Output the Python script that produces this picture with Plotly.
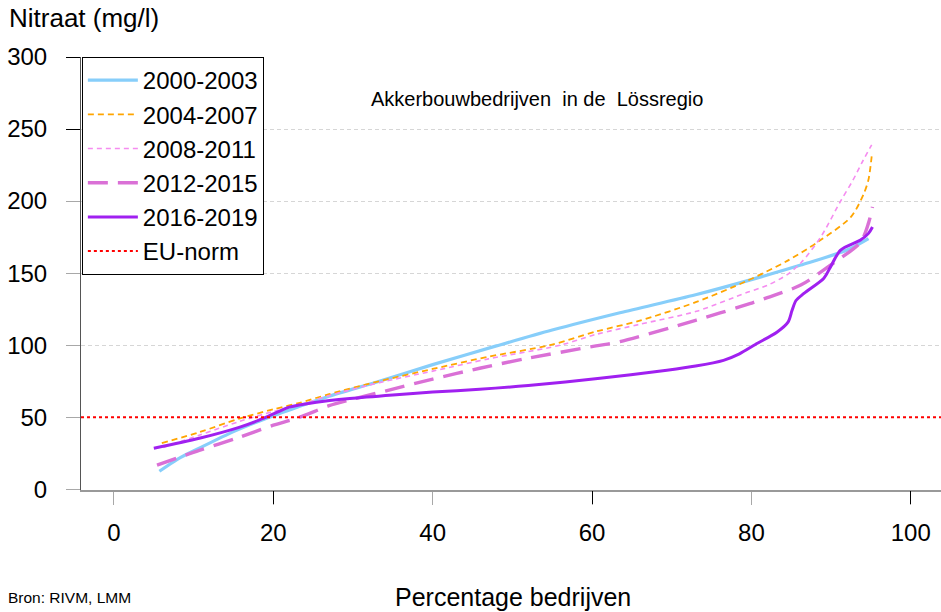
import plotly.graph_objects as go

# ---------------- data ----------------
x_2000 = [5.7, 8, 10.7, 15, 19, 23, 27, 33, 40, 48, 55, 63.5, 73, 80, 86.2, 92, 94.7]
y_2000 = [12.5, 21, 28.5, 40, 49, 57, 64.6, 74.5, 86.5, 99.5, 110.5, 122.5, 135, 145.5, 155.6, 166, 174]

x_2004 = [6, 10.7, 15.7, 20, 23.3, 27, 33.3, 40, 47, 54.7, 60.5, 66, 73.1, 79.4, 84.5, 88.3, 92.5, 94.1, 94.7, 95.1]
y_2004 = [32, 39.6, 49, 55.5, 60, 66, 75, 83.5, 92, 100, 109.5, 117, 130, 144.5, 158.5, 171.5, 189, 205, 215, 231]

x_2008 = [6.2, 10.7, 15.7, 20, 23.3, 27, 33.3, 40, 47, 56, 60.5, 66, 73.1, 79.4, 82, 84.5, 86.2, 88.7, 91.2, 92.7, 94, 95.1]
y_2008 = [29, 37.5, 47, 54, 58.5, 65, 74, 82, 90.5, 100, 107.5, 114.5, 123.5, 136.5, 141.5, 149, 157, 175, 200, 214, 228, 239]

x_2012 = [5.4, 10.7, 15.7, 20, 23.3, 27, 29.6, 35, 40, 45.9, 52, 60.5, 63.5, 73.1, 79.9, 82, 86.2, 90.3, 93.7, 94.7, 95.2]
y_2012 = [16.7, 27, 36, 44.5, 50, 58, 62, 69.5, 76.5, 84, 91, 99.5, 102.5, 117.4, 129, 133, 141.7, 157, 171.5, 184.7, 196]

x_2016 = [5, 10.7, 15.7, 18.2, 20.5, 22, 25.4, 29.6, 35, 40, 45.9, 52, 61, 69.4, 73, 76.5, 78.5, 80.5, 83.2, 84.6, 85.1, 85.6, 86.6, 89.1, 89.9, 91.2, 93.7, 94.7, 95.2]
y_2016 = [28.5, 35.4, 43, 48, 53.5, 57, 60.4, 63, 65.5, 67.5, 69.4, 72, 77, 82.6, 85.5, 89.5, 94, 100.5, 109, 116, 124, 131, 136, 146.5, 154, 166, 173, 177.6, 182]

EU_NORM = 50
series_names = ["2000-2003", "2004-2007", "2008-2011", "2012-2015", "2016-2019"]

x_ticks_all = [0, 20, 40, 60, 80, 100]
x_ticks_dark = [20, 60, 100]
y_ticks_all = [0, 50, 100, 150, 200, 250, 300]
y_ticks_dark = [250, 300]
y_grid = [100, 150, 200, 250]

X_RANGE = [-4.14, 103.8]
Y_RANGE = [-0.5, 300]

FONT = "Liberation Sans, Arial, sans-serif"

fig = go.Figure()

styles = [
    dict(color="#87CEFA", width=3.2, dash="solid"),
    dict(color="#FFA500", width=1.8, dash="6px,4px"),
    dict(color="#F58CF0", width=1.6, dash="5px,4px"),
    dict(color="#DA70D6", width=3.4, dash="20px,10px"),
    dict(color="#A020F0", width=3.0, dash="solid"),
]
xs = [x_2000, x_2004, x_2008, x_2012, x_2016]
ys = [y_2000, y_2004, y_2008, y_2012, y_2016]

for name, xv, yv, st in zip(series_names, xs, ys, styles):
    fig.add_trace(go.Scatter(x=xv, y=yv, mode="lines", name=name,
                             line=dict(shape="spline", smoothing=0.8, **st)))

fig.add_trace(go.Scatter(x=X_RANGE, y=[EU_NORM, EU_NORM], mode="lines", name="EU-norm",
                         line=dict(color="#FF0000", width=2, dash="3px,3px")))

fig.update_layout(
    width=941, height=612,
    margin=dict(l=81, r=0, t=57, b=122),
    paper_bgcolor="white", plot_bgcolor="white",
    font=dict(family=FONT, color="black"),
    showlegend=True,
    legend=dict(x=0.001, y=1, xanchor="left", yanchor="top",
                bordercolor="black", borderwidth=1, bgcolor="white",
                font=dict(size=24, family=FONT), itemwidth=50,
                tracegroupgap=0),
    xaxis=dict(range=X_RANGE, tickvals=x_ticks_all, ticks="outside", ticklen=13,
               tickcolor="#a8a8a8", tickwidth=1, showgrid=False, zeroline=False,
               showline=True, linecolor="#999999", linewidth=2,
               tickfont=dict(size=24, family=FONT), ticklabelstandoff=7),
    xaxis2=dict(range=X_RANGE, overlaying="x", anchor="y", tickvals=x_ticks_dark,
                ticks="outside", ticklen=13, tickcolor="black", tickwidth=1,
                showticklabels=False, showgrid=False, zeroline=False, showline=False),
    yaxis=dict(range=Y_RANGE, tickvals=y_ticks_all, ticks="outside", ticklen=14,
               tickcolor="#a8a8a8", tickwidth=1, showgrid=False, zeroline=False,
               showline=True, linecolor="#555555", linewidth=1,
               tickfont=dict(size=24, family=FONT), ticklabelstandoff=14),
    yaxis2=dict(range=Y_RANGE, overlaying="y", anchor="x", tickvals=y_grid,
                showgrid=True, gridcolor="#d6d6d6", griddash="4px,3px", gridwidth=1,
                showticklabels=False, ticks="", zeroline=False, showline=False,
                layer="below traces"),
    yaxis3=dict(range=Y_RANGE, overlaying="y", anchor="x", tickvals=y_ticks_dark,
                ticks="outside", ticklen=14, tickcolor="black", tickwidth=1,
                showticklabels=False, showgrid=False, zeroline=False, showline=False),
)

# empty helper traces so the overlay axes are drawn
fig.add_trace(go.Scatter(x=[None], y=[None], xaxis="x2", yaxis="y", showlegend=False, hoverinfo="skip"))
fig.add_trace(go.Scatter(x=[None], y=[None], xaxis="x", yaxis="y2", showlegend=False, hoverinfo="skip"))
fig.add_trace(go.Scatter(x=[None], y=[None], xaxis="x", yaxis="y3", showlegend=False, hoverinfo="skip"))

fig.add_annotation(text="Nitraat (mg/l)", xref="paper", yref="paper", x=-0.0855, y=1.09,
                   xanchor="left", yanchor="middle", showarrow=False,
                   font=dict(size=26, family=FONT))
fig.add_annotation(text="Akkerbouwbedrijven\u00a0 in de\u00a0 Lössregio", xref="paper", yref="paper",
                   x=0.335, y=0.903, xanchor="left", yanchor="middle", showarrow=False,
                   font=dict(size=20, family=FONT))
fig.add_annotation(text="Percentage bedrijven", xref="paper", yref="paper", x=0.502, y=-0.247,
                   xanchor="center", yanchor="middle", showarrow=False,
                   font=dict(size=25, family=FONT))
fig.add_annotation(text="Bron: RIVM, LMM", xref="paper", yref="paper", x=-0.087, y=-0.249,
                   xanchor="left", yanchor="middle", showarrow=False,
                   font=dict(size=15.5, family=FONT))

fig.write_html("out.html", config={"displayModeBar": False},
               post_script="document.body.style.margin='0';")
